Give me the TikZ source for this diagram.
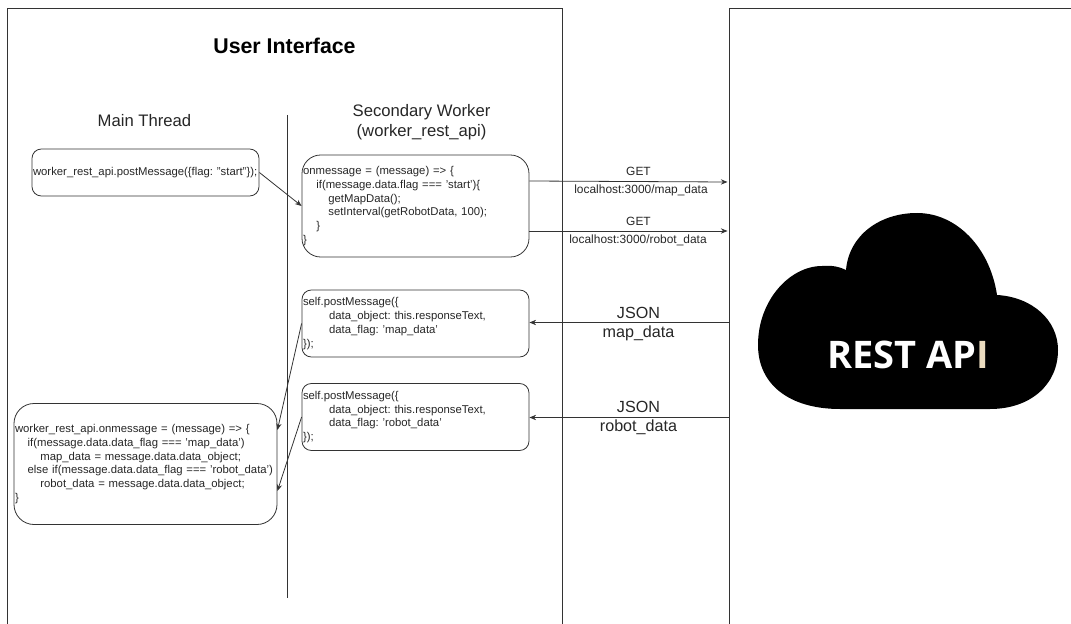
\documentclass[tikz,border=0pt]{standalone}
\usepackage{fontspec}
\setmainfont{Liberation Sans}
\newfontfamily\cloudfont{Open Sans}
\usetikzlibrary{arrows.meta}
\definecolor{linec}{HTML}{333333}
\newcommand{\ind}[1]{\hspace*{#1pt}}
\frenchspacing
\tikzset{
  codebox/.style={draw=linec,line width=0.6pt,align=left,inner xsep=0.75pt,inner ysep=0pt,
    font=\fontsize{8.5}{10.3}\selectfont,text=black!85},
  conn/.style={draw=linec,line width=0.6pt,-{Stealth[length=5pt,width=4pt]}},
  panel/.style={draw=linec,line width=0.6pt},
  smalllabel/.style={font=\fontsize{8.95}{10.3}\selectfont,text=black!85,inner sep=0pt},
  biglabel/.style={font=\fontsize{12.5}{15}\selectfont,text=black!85,inner sep=0pt,align=center},
  jsonlabel/.style={font=\fontsize{12.1}{15}\selectfont,text=black!85,inner sep=0pt,align=center}
}
\begin{document}
\begin{tikzpicture}[x=0.75pt,y=-0.75pt]
\useasboundingbox (0,0) rectangle (1071,624);
% panels
\draw[panel] (7.5,624) -- (7.5,8.5) -- (562.5,8.5) -- (562.5,624);
\draw[panel] (729.5,624) -- (729.5,8.5) -- (1071,8.5);
\coordinate (apigetmap) at (727.5,182);
\coordinate (apigetrobot) at (727.5,231);
\coordinate (apijsonmap) at (729.5,322.5);
\coordinate (apijsonrobot) at (729.5,417.5);
% divider
\coordinate (divtop) at (287.5,115);
\coordinate (divbot) at (287.5,598);
\draw[draw=linec,line width=0.7pt] (divtop) -- (divbot);
% titles
\node[inner sep=0pt,font=\fontsize{16}{18}\selectfont\bfseries] (title) at (284.5,45.5) {User Interface};
\node[biglabel] (mainthread) at (144.5,120.5) {Main Thread};
\node[biglabel] (secondary) at (421.5,122) {Secondary Worker\\(worker\_rest\_api)};
% boxes
\node[codebox,rounded corners=7pt,minimum width=170.25pt,minimum height=35.25pt,text width=168.75pt] (start) at (145.5,172.5)
  {worker\_rest\_api.postMessage(\{flag: "start"\});};
\node[codebox,rounded corners=14pt,minimum width=170.25pt,minimum height=76.5pt,text width=168.75pt] (onmsg) at (415.5,206)
  {onmessage = (message) => \{\\
   \ind{10}if(message.data.flag === 'start')\{\\
   \ind{19}getMapData();\\
   \ind{19}setInterval(getRobotData, 100);\\
   \ind{10}\}\\
   \}};
\node[codebox,rounded corners=7pt,minimum width=170.25pt,minimum height=50.25pt,text width=168.75pt] (postmap) at (415.5,323.5)
  {self.postMessage(\{\\
   \ind{19.5}data\_object: this.responseText,\\
   \ind{19.5}data\_flag: 'map\_data'\\
   \});};
\node[codebox,rounded corners=7pt,minimum width=170.25pt,minimum height=50.25pt,text width=168.75pt] (postrobot) at (415.5,417)
  {self.postMessage(\{\\
   \ind{19.5}data\_object: this.responseText,\\
   \ind{19.5}data\_flag: 'robot\_data'\\
   \});};
\node[codebox,rounded corners=15pt,minimum width=197.25pt,minimum height=90.75pt,text width=195.75pt] (onmsgmain) at (145.5,464)
  {worker\_rest\_api.onmessage = (message) => \{\\
   \ind{9.5}if(message.data.data\_flag === 'map\_data')\\
   \ind{19}map\_data = message.data.data\_object;\\
   \ind{9.5}else if(message.data.data\_flag === 'robot\_data')\\
   \ind{19}robot\_data = message.data.data\_object;\\
   \}};
% connectors
\draw[conn] (start.east) -- (onmsg.west);
\draw[conn] (onmsg.east |- 0,181) -- (apigetmap);
\draw[conn] (onmsg.east |- apigetrobot) -- (apigetrobot);
\draw[conn] (apijsonmap) -- (postmap.east |- apijsonmap);
\draw[conn] (apijsonrobot) -- (postrobot.east |- apijsonrobot);
\draw[conn] (postmap.west) -- (onmsgmain.east |- 0,430);
\draw[conn] (postrobot.west) -- (onmsgmain.east |- 0,491);
% connector labels
\node[smalllabel] (get1) at (638.5,171.5) {GET};
\node[smalllabel] (url1) at (641,190.5) {localhost:3000/map\_data};
\node[smalllabel] (get2) at (638.5,221.5) {GET};
\node[smalllabel] (url2) at (638,240.5) {localhost:3000/robot\_data};
\node[jsonlabel] (json1) at (638.5,313) {JSON};
\node[jsonlabel] (data1) at (638.5,333.5) {map\_data};
\node[jsonlabel] (json2) at (638.5,407) {JSON};
\node[jsonlabel] (data2) at (638.5,427.5) {robot\_data};
% cloud
\fill[black] (846,270)
  .. controls (849,235) and (880,213) .. (917,213)
  .. controls (957,213) and (990,248) .. (997,295)
  .. controls (1032,297) and (1058,320) .. (1058,350)
  .. controls (1058,385) and (1030,409) .. (990,409)
  -- (840,409)
  .. controls (790,409) and (758,385) .. (758,345)
  .. controls (758,300) and (790,266) .. (822,266)
  .. controls (832,265) and (840,267) .. (846,270) -- cycle;
\node[inner sep=0pt,text=white,font=\fontsize{28.5}{30}\cloudfont\selectfont\bfseries] (restapi) at (908,354.5)
  {REST AP\textcolor[HTML]{EBDCC0}{I}};
\end{tikzpicture}
\end{document}
